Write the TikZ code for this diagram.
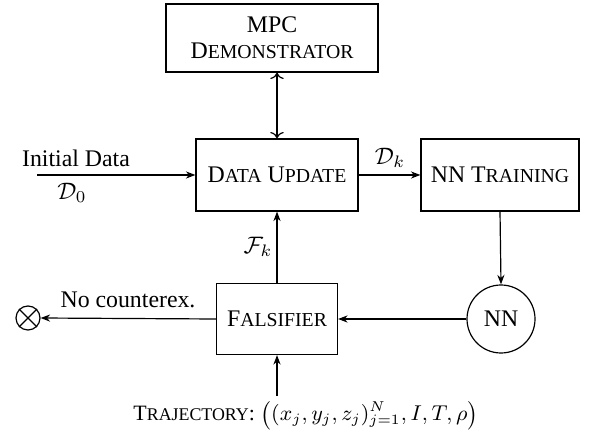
\documentclass[tikz,border=0pt]{standalone}
\usepackage{fontspec}
\setmainfont{Liberation Serif}
\usetikzlibrary{arrows.meta}
% small caps: full-size initial, reduced-size capitals for the rest
\newcommand{\smc}[2]{#1{\fontsize{8.3}{9}\selectfont #2}}
\newcommand{\smcs}[2]{#1{\fontsize{7.5}{9}\selectfont #2}}
\begin{document}
\begin{tikzpicture}[x=0.42pt,y=-0.42pt,
  box/.style={draw,line width=0.5pt,inner sep=0pt},
  conn/.style={line width=0.5pt,-{Stealth[length=4pt,width=3pt]}},
  lbl/.style={inner sep=0pt,font=\fontsize{10}{12}\selectfont}]
\useasboundingbox (0,0) rectangle (590,443);

\node[box,minimum width=212*0.42pt,minimum height=68*0.42pt,align=center,
      font=\fontsize{10}{12}\selectfont] (mpc) at (272,38)
  {MPC\\[-1pt]\smc{D}{EMONSTRATOR}};
\node[box,minimum width=162*0.42pt,minimum height=72*0.42pt,
      font=\fontsize{10}{12}\selectfont] (upd) at (277,175)
  {\smc{D}{ATA} \smc{U}{PDATE}};
\node[box,minimum width=158*0.42pt,minimum height=72*0.42pt,
      font=\fontsize{10}{12}\selectfont] (train) at (500,175)
  {NN \smc{T}{RAINING}};
\node[box,minimum width=121*0.42pt,minimum height=71*0.42pt,
      font=\fontsize{10}{12}\selectfont] (fals) at (277,319)
  {\smc{F}{ALSIFIER}};
\node[draw,circle,line width=0.5pt,minimum size=68*0.42pt,inner sep=0pt,
      font=\fontsize{10}{12}\selectfont] (nn) at (501,319) {NN};

% end marker: circle with a diagonal cross
\node[draw,circle,line width=0.5pt,minimum size=24*0.42pt,inner sep=0pt] (stop) at (28,318) {};
\draw[line width=0.5pt] (stop.north east) -- (stop.south west)
                        (stop.north west) -- (stop.south east);

\coordinate (init) at (37,175);
\coordinate (trajtop) at (277,396);
\node[inner sep=0pt,anchor=north,font=\fontsize{9.2}{11}\selectfont] (traj) at (306,400)
  {\smcs{T}{RAJECTORY}: $\bigl((x_j,y_j,z_j)_{j=1}^N,I,T,\rho\bigr)$};

\node[lbl] (initlbl) at (76,158) {Initial Data};
\node[lbl] (d0) at (72,193) {$\mathcal{D}_0$};
\node[lbl] (dk) at (390,158) {$\mathcal{D}_k$};
\node[lbl] (fk) at (258,247) {$\mathcal{F}_k$};
\node[lbl] (nocx) at (128,300) {No counterex.};

\draw[line width=0.5pt,<->] (mpc.south -| upd.north) -- (upd.north);
\draw[conn] (init) -- (upd.west);
\draw[conn] (upd.east) -- (train.west);
\draw[conn] (train.south) -- (nn.north);
\draw[conn] (nn.west) -- (fals.east);
\draw[conn] (fals.north) -- (upd.south);
\draw[conn] (trajtop) -- (fals.south);
\draw[conn] (fals.west) -- (stop.east);
\end{tikzpicture}
\end{document}
